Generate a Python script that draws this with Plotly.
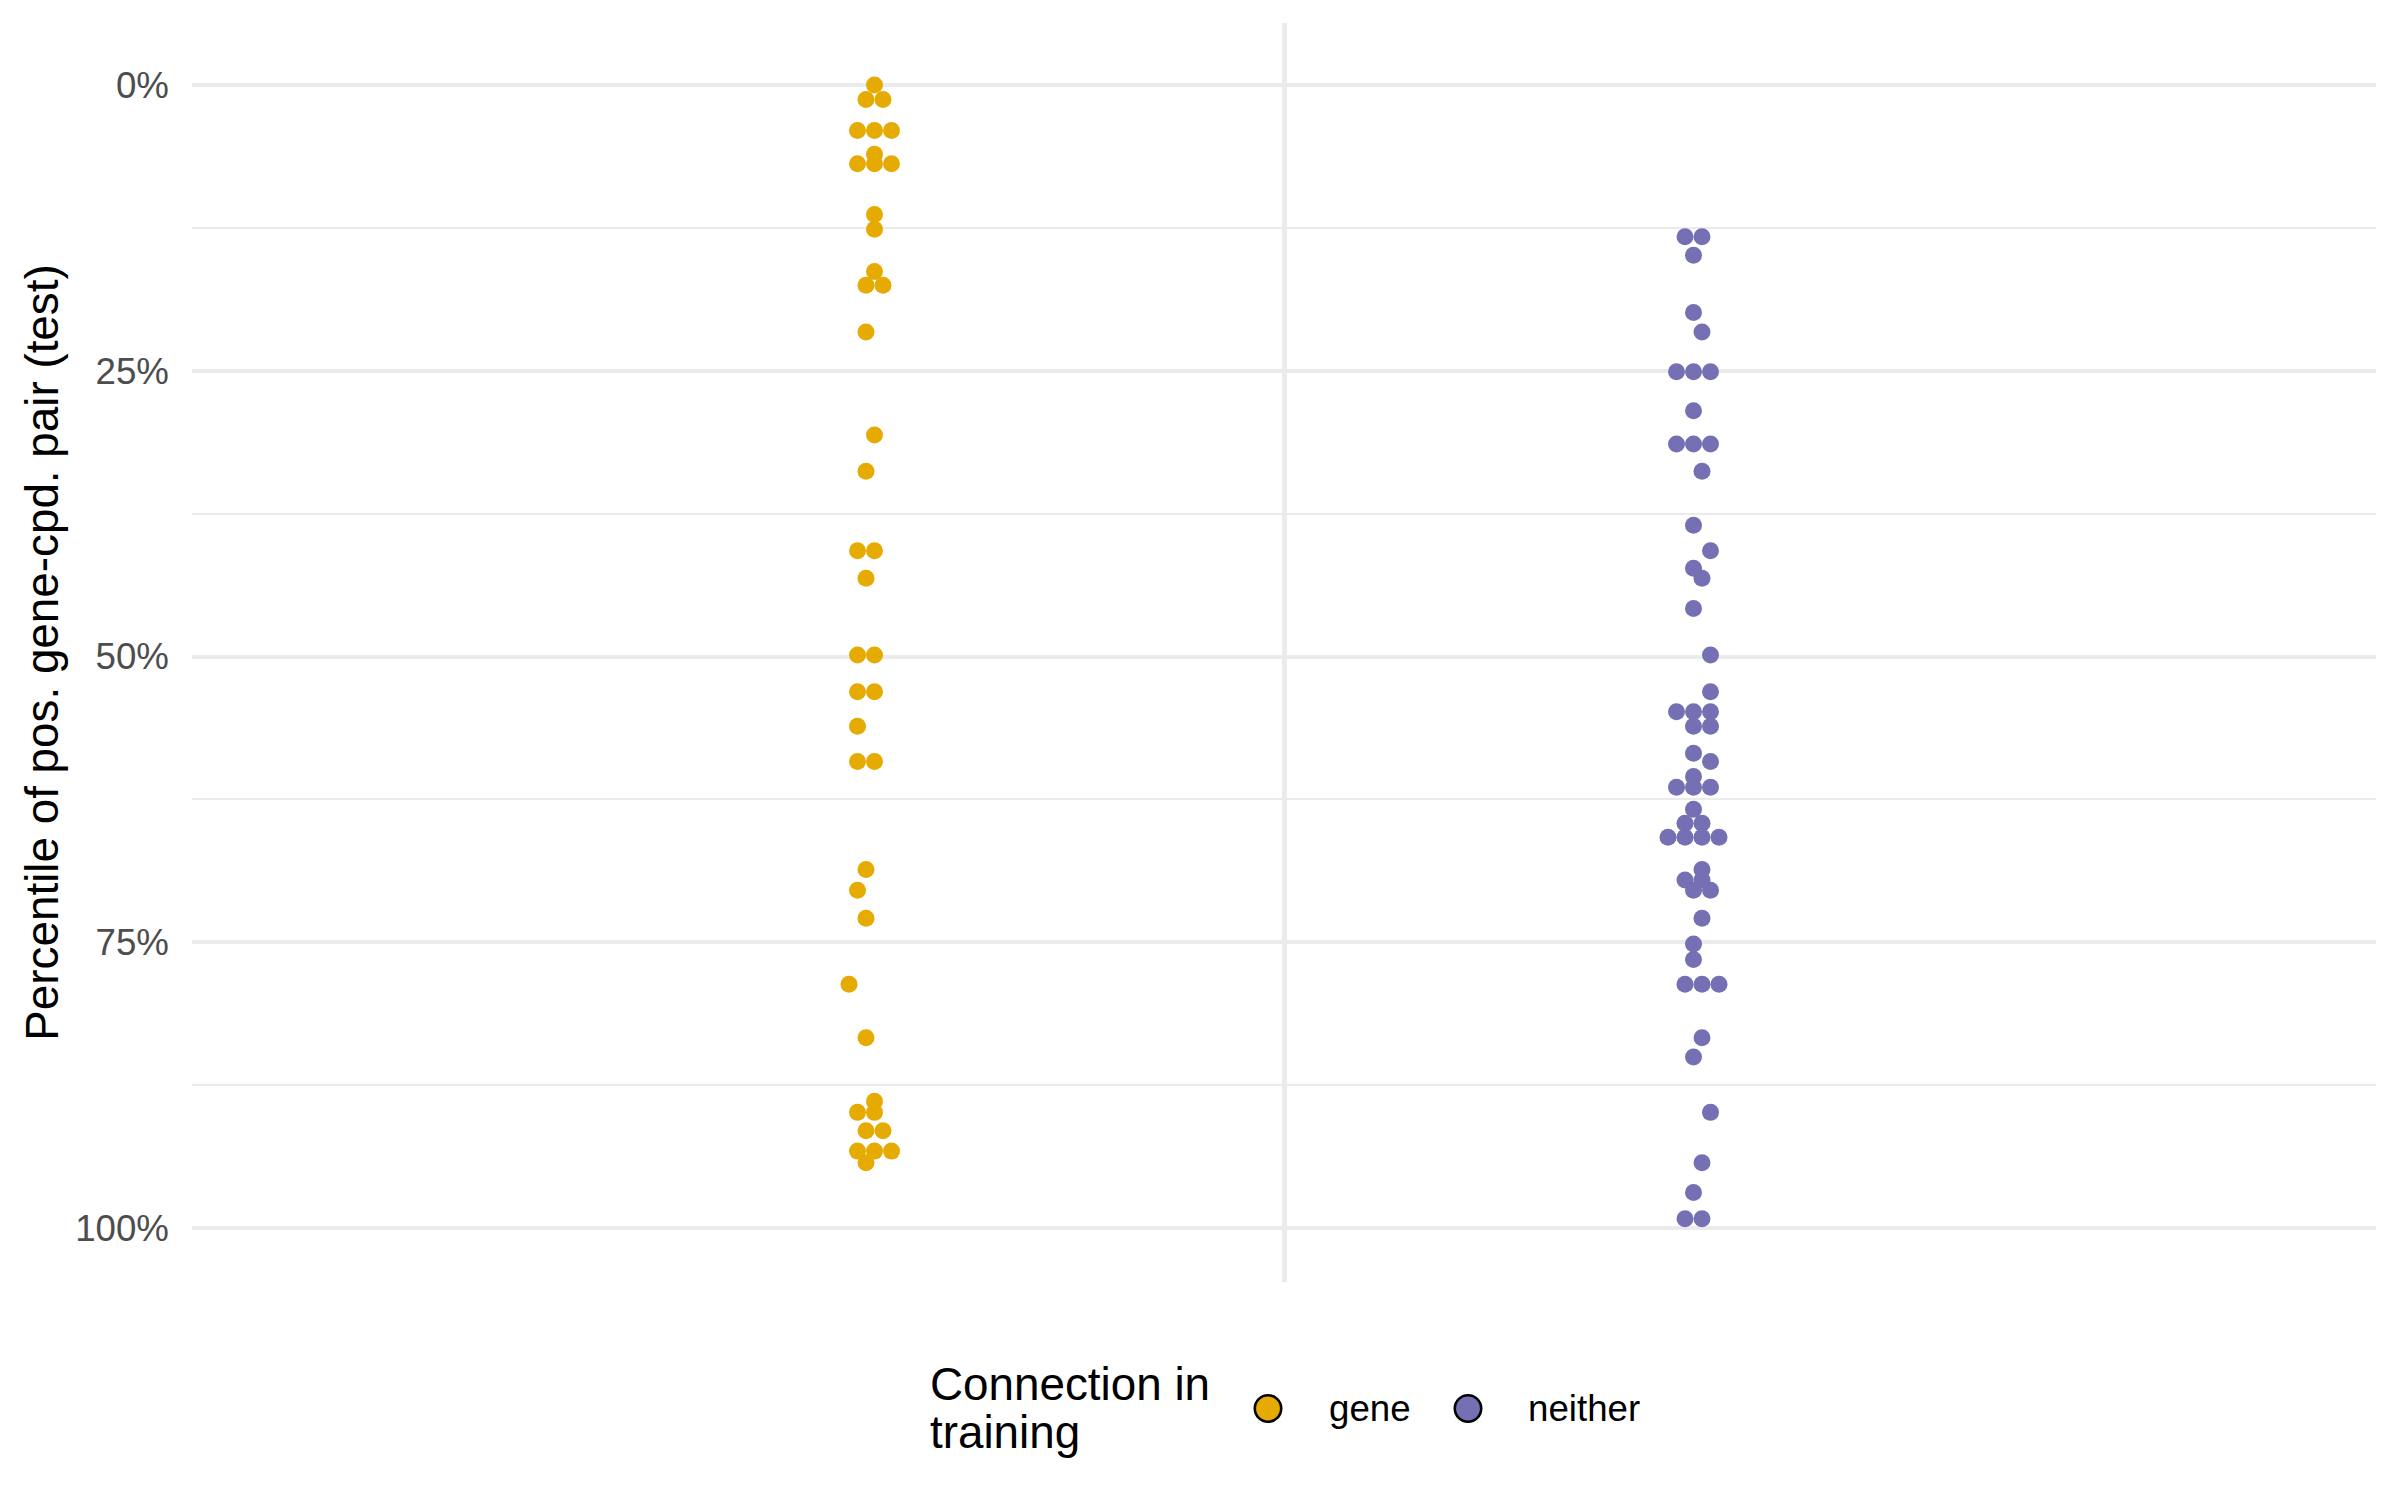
import plotly.graph_objects as go

# ---------------- data (percentile of positive gene-cpd pair, %) ----------------
groups = ["gene", "neither"]

gene_pct = [
    0.0,
    1.28, 1.28,
    3.98, 3.98, 3.98,
    6.06,
    6.89, 6.89, 6.89,
    11.34,
    12.62,
    16.32,
    17.53, 17.53,
    21.62,
    30.63,
    33.8,
    40.75, 40.75,
    43.16,
    49.86, 49.86,
    53.08, 53.08,
    56.1,
    59.18, 59.18,
    68.64,
    70.44,
    72.89,
    78.68,
    83.35,
    88.9,
    89.88, 89.88,
    91.48, 91.48,
    93.27, 93.27, 93.27,
    94.28,
]

neither_pct = [
    13.27, 13.27,
    14.9,
    19.9,
    21.62,
    25.09, 25.09, 25.09,
    28.5,
    31.42, 31.42, 31.42,
    33.8,
    38.51,
    40.75,
    42.28,
    43.16,
    45.8,
    49.86,
    53.08,
    54.84, 54.84, 54.84,
    56.1, 56.1,
    58.46,
    59.18,
    60.5,
    61.44, 61.44, 61.44,
    63.37,
    64.59, 64.59,
    65.81, 65.81, 65.81, 65.81,
    68.64,
    69.55, 69.55,
    70.44, 70.44,
    72.89,
    75.16,
    76.5,
    78.68, 78.68, 78.68,
    83.35,
    85.03,
    89.88,
    94.28,
    96.9,
    99.18, 99.18,
]

y_tick_vals = [0, 25, 50, 75, 100]
y_tick_text = ["0%", "25%", "50%", "75%", "100%"]

colors = {"gene": "#E6AB02", "neither": "#7570B3"}

# ---------------- layout geometry ----------------
W, H = 2400, 1500
ML, MR, MT, MB = 192, 24, 23, 218
PW, PH = W - ML - MR, H - MT - MB
X_RANGE = [0.4, 1.6]
DODGE = 0.225            # position_dodge(width = 0.9) with 2 groups
POINT_D_PX = 17          # point diameter in px
px_per_unit = PW / (X_RANGE[1] - X_RANGE[0])
spacing = POINT_D_PX / px_per_unit

# ---------------- beeswarm ("center" on ties, computed jointly, then dodged) ----------------
series = {"gene": gene_pct, "neither": neither_pct}
rows = {}
for g in groups:
    for i, v in enumerate(series[g]):
        rows.setdefault(v, []).append((g, i))

xpos = {g: [0.0] * len(series[g]) for g in groups}
centers = {"gene": 1 - DODGE, "neither": 1 + DODGE}
for v, members in rows.items():
    n = len(members)
    for k, (g, i) in enumerate(members):
        off = k - (n - 1) / 2
        xpos[g][i] = centers[g] + off * spacing

fig = go.Figure()
for g in groups:
    fig.add_trace(go.Scatter(
        x=xpos[g], y=series[g], mode="markers", name=g,
        marker=dict(size=POINT_D_PX, color=colors[g], line=dict(width=0)),
        hovertemplate="%{y:.2f}%<extra>" + g + "</extra>",
    ))

FONT = "Liberation Sans, Arial, Helvetica, sans-serif"
GRID = "#EBEBEB"

fig.update_layout(
    width=W, height=H,
    margin=dict(l=ML, r=MR, t=MT, b=MB, pad=0),
    plot_bgcolor="white", paper_bgcolor="white",
    showlegend=False,
    font=dict(family=FONT, color="black"),
    xaxis=dict(
        range=X_RANGE, tickvals=[1], showticklabels=False, ticks="",
        showgrid=True, gridcolor=GRID, gridwidth=4.5,
        zeroline=False, showline=False,
    ),
    yaxis=dict(
        range=[104.72, -5.42], tickvals=y_tick_vals, ticktext=y_tick_text,
        ticks="", ticklabelstandoff=22,
        tickfont=dict(family=FONT, size=36.7, color="#4D4D4D"),
        showgrid=True, gridcolor=GRID, gridwidth=4,
        minor=dict(tickvals=[12.5, 37.5, 62.5, 87.5], showgrid=True,
                   gridcolor=GRID, gridwidth=2, ticks=""),
        zeroline=False, showline=False,
        title=dict(text="Percentile of pos. gene-cpd. pair (test)",
                   font=dict(family=FONT, size=45.8, color="black"), standoff=2),
    ),
)

# ---------------- manual legend (bottom, horizontal) ----------------
def px_x(px):
    return (px - ML) / PW

def px_y(py):
    return (H - MB - py) / PH

LEG_Y = 1408.5
annots = [
    dict(text="Connection in", x=px_x(929), y=px_y(1384), font=dict(size=45.8)),
    dict(text="training", x=px_x(929), y=px_y(1432), font=dict(size=45.8)),
    dict(text="gene", x=px_x(1328), y=px_y(LEG_Y), font=dict(size=36.7)),
    dict(text="neither", x=px_x(1527), y=px_y(LEG_Y), font=dict(size=36.7)),
]
for a in annots:
    fig.add_annotation(xref="paper", yref="paper", xanchor="left", yanchor="middle",
                       showarrow=False, borderpad=0,
                       font=dict(family=FONT, color="black", size=a["font"]["size"]),
                       text=a["text"], x=a["x"], y=a["y"])

r = 13.2
for g, cx in (("gene", 1268), ("neither", 1468)):
    fig.add_shape(type="circle", xref="paper", yref="paper",
                  xsizemode="pixel", ysizemode="pixel",
                  xanchor=px_x(cx), yanchor=px_y(LEG_Y),
                  x0=-r, x1=r, y0=-r, y1=r,
                  fillcolor=colors[g], line=dict(color="black", width=2.6))

fig.write_html("out.html")
